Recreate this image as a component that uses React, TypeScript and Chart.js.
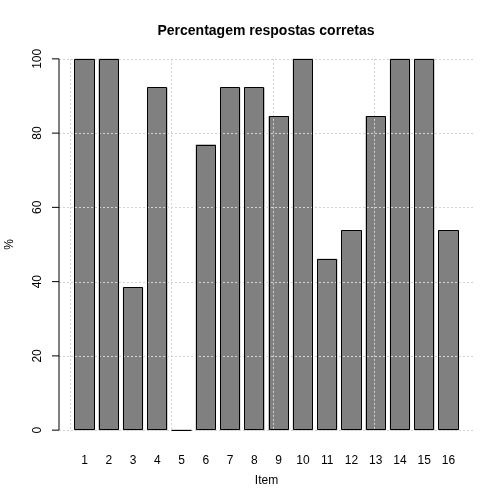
import React, { useEffect, useRef } from "react";
import { Chart, registerables } from "chart.js";

Chart.register(...registerables);

const items = ["1", "2", "3", "4", "5", "6", "7", "8", "9", "10", "11", "12", "13", "14", "15", "16"];
const percentCorrect = [100, 100, 38.46, 92.31, 0, 76.92, 92.31, 92.31, 84.62, 100, 46.15, 53.85, 84.62, 100, 100, 53.85];
const yTicks = [0, 20, 40, 60, 80, 100];
const xGridAt = [0, 5, 10, 15];

// R barplot geometry: width 1, space 0.2
const SPACE = 0.2;
const WIDTH = 1;
const slotCenter = (i: number) => SPACE + WIDTH / 2 + i * (SPACE + WIDTH);
const xLo = SPACE;
const xHi = items.length * (SPACE + WIDTH);
const xPad = (xHi - xLo) * 0.04;
const yPad = (100 - 0) * 0.04;

const FONT = "'Liberation Sans', Arial, Helvetica, sans-serif";

const rPlugin = {
  id: "rStyle",
  afterDatasetsDraw(chart: any) {
    const { ctx, chartArea } = chart;
    const xs = chart.scales.x;
    const ys = chart.scales.y;
    ctx.save();
    const meta = chart.getDatasetMeta(0);
    const rects = meta.data.map((bar: any) => {
      const p = bar.getProps(["x", "y", "base", "width"], true);
      return {
        l: Math.round(p.x - p.width / 2) + 0.5,
        r: Math.round(p.x + p.width / 2) - 0.5,
        t: Math.round(Math.min(p.y, p.base)) + 0.5,
        b: Math.round(Math.max(p.y, p.base)) - 0.5,
      };
    });
    // crisp fills
    ctx.fillStyle = "#808080";
    for (const q of rects) if (q.b > q.t) ctx.fillRect(q.l, q.t, q.r - q.l, q.b - q.t);
    // grid (dotted, light gray)
    ctx.lineWidth = 1;
    ctx.strokeStyle = "#d3d3d3";
    ctx.setLineDash([2, 2]);
    for (const v of yTicks) {
      const py = Math.round(ys.getPixelForValue(v)) + 0.5;
      ctx.beginPath();
      ctx.moveTo(chartArea.left, py);
      ctx.lineTo(chartArea.right, py);
      ctx.stroke();
    }
    const top = ys.getPixelForValue(100);
    const bot = ys.getPixelForValue(0);
    for (const v of xGridAt) {
      const px = Math.round(xs.getPixelForValue(v)) + 0.5;
      ctx.beginPath();
      ctx.moveTo(px, top);
      ctx.lineTo(px, bot);
      ctx.stroke();
    }
    ctx.setLineDash([]);
    // bar outlines
    ctx.strokeStyle = "#000";
    for (const q of rects) {
      ctx.beginPath();
      if (q.b - q.t < 1) {
        ctx.moveTo(q.l, q.b);
        ctx.lineTo(q.r, q.b);
      } else {
        ctx.rect(q.l, q.t, q.r - q.l, q.b - q.t);
      }
      ctx.stroke();
    }
    // y axis line + ticks
    const ax = chartArea.left;
    ctx.beginPath();
    ctx.moveTo(ax, top);
    ctx.lineTo(ax, bot);
    ctx.stroke();
    ctx.fillStyle = "#000";
    ctx.font = `12px ${FONT}`;
    ctx.textAlign = "center";
    ctx.textBaseline = "middle";
    for (const v of yTicks) {
      const py = ys.getPixelForValue(v);
      ctx.beginPath();
      ctx.moveTo(ax - 7, py);
      ctx.lineTo(ax, py);
      ctx.stroke();
      ctx.save();
      ctx.translate(ax - 21, py);
      ctx.rotate(-Math.PI / 2);
      ctx.fillText(String(v), 0, 0);
      ctx.restore();
    }
    ctx.restore();
  },
};

export default function App() {
  const ref = useRef<HTMLCanvasElement | null>(null);
  useEffect(() => {
    document.body.style.margin = "0";
    if (!ref.current) return;
    const chart = new Chart(ref.current, {
      type: "bar",
      data: {
        datasets: [
          {
            data: percentCorrect.map((v, i) => ({ x: slotCenter(i), y: v })),
            backgroundColor: "#808080",
            borderWidth: 0,
            minBarLength: 1,
            barPercentage: WIDTH / (SPACE + WIDTH),
            categoryPercentage: 1,
          },
        ],
      },
      options: {
        responsive: false,
        animation: false,
        events: [],
        layout: { padding: { left: 58, right: 30, top: 0, bottom: 0 } },
        plugins: {
          legend: { display: false },
          tooltip: { enabled: false },
          title: {
            display: true,
            text: "Percentagem respostas corretas",
            color: "#000",
            font: { family: FONT, size: 14, weight: "bold", lineHeight: 1.2 },
            padding: { top: 22.6, bottom: 4.6 },
          },
        },
        scales: {
          x: {
            type: "linear",
            min: xLo - xPad,
            max: xHi + xPad,
            offset: false,
            grid: { display: false },
            border: { display: false },
            afterBuildTicks: (scale: any) => {
              scale.ticks = items.map((_, i) => ({ value: slotCenter(i) }));
            },
            afterFit: (scale: any) => {
              scale.height = 59;
            },
            ticks: {
              autoSkip: false,
              maxRotation: 0,
              minRotation: 0,
              padding: 0,
              color: "#000",
              font: { family: FONT, size: 12 },
              callback: (_v: any, i: number) => items[i],
            },
            title: {
              display: true,
              text: "Item",
              color: "#000",
              font: { family: FONT, size: 12, lineHeight: 1.2 },
              padding: { top: 0, bottom: 15.8 },
            },
          },
          y: {
            min: 0 - yPad,
            max: 100 + yPad,
            grid: { display: false },
            border: { display: false },
            afterBuildTicks: (scale: any) => {
              scale.ticks = yTicks.map((v) => ({ value: v }));
            },
            afterFit: (scale: any) => {
              scale.width = 1;
            },
            ticks: { display: false },
            title: {
              display: true,
              text: "%",
              color: "#000",
              font: { family: FONT, size: 12, lineHeight: 1.2 },
              padding: { top: -55.2, bottom: 0 },
            },
          },
        },
      },
      plugins: [rPlugin],
    } as any);
    return () => chart.destroy();
  }, []);
  return (
    <div style={{ width: 504, height: 504 }}>
      <canvas ref={ref} width={504} height={504} />
    </div>
  );
}
